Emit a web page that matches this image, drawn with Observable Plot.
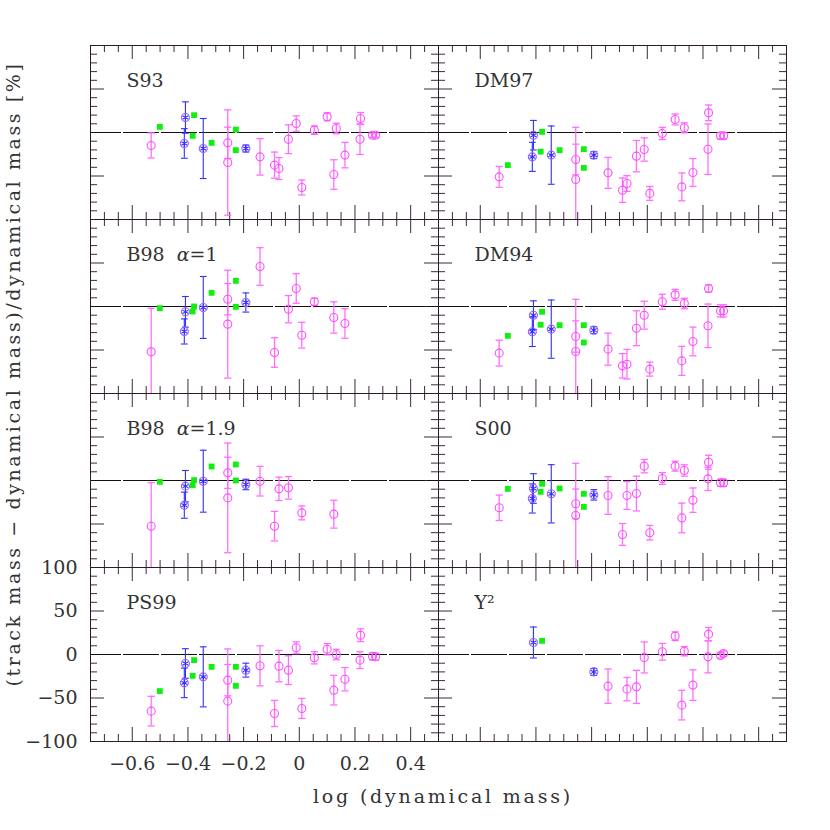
<!DOCTYPE html>
<html><head><meta charset="utf-8">
<script src="https://cdn.jsdelivr.net/npm/d3@7"></script>
<script src="https://cdn.jsdelivr.net/npm/@observablehq/plot@0.6"></script>
<style>body{margin:0;background:#fff}</style>
</head><body><div id="chart"></div>
<script>
const panelNames = ["S93", "DM97", "B98\u00a0\u00a0α=1", "DM94", "B98\u00a0\u00a0α=1.9", "S00", "PS99", "Y²"];

const magentaX = [-0.532, -0.257, -0.257, -0.141, -0.089, -0.073, -0.039, -0.011, 0.009, 0.054, 0.100, 0.124, 0.133, 0.164, 0.220, 0.218, 0.263, 0.274];
const magentaY = [
  [-14.9, -11.9, -34.5, -28, -37.5, -41.4, -7.7, 10.3, -63.2, 2.7, 18, -48.3, 4.6, -26, 16.1, -7.7, -3.1, -3.1],
  [-51, -31, -54, -46.4, -66.3, -58.6, -27.2, -19.5, -70, -1.1, 15, -62.5, 5.4, -46, 22.6, -19.2, -3.8, -3.8],
  [-52.1, 8.4, -20.3, 46, -52.9, null, -3.1, 20.7, -33, 5.4, null, -12.6, null, -19.5, null, null, null, null],
  [-53.6, -34.5, -51.7, -49, -68.2, -66.3, -25, -10, -72, 5.4, 13.4, -62.5, 3.4, -40.2, 20.7, -22.2, -5, -5],
  [-52.5, 8.8, -20, -0.8, -52.5, -9.6, -8.4, null, -37.2, null, null, -38.7, null, null, null, null, null, null],
  [-31.4, -26.8, -40.2, -17.2, -62, -17.2, -15, 16.5, -60, 2.3, 16.5, -43, 11.5, -22.6, 21, 1.9, -2.7, -2.7],
  [-65.1, -29.5, -53.6, -13, -67.8, -13.4, -18, 7.7, -62, -3.8, 6.1, -41, 0, -28.4, 22.2, -6.5, -2, -2.5],
  [null, null, null, -36.4, null, -39.8, -37.2, -3.4, null, 3.1, 21, -58.2, 3.8, -35.2, 23.4, -2.7, -1.1, 1.1]
];
const magentaErr = [
  [14.4, 18, 60.5, 21, 15, 12.6, 16.5, 8.8, 8.6, 4.8, 4.6, 17, 6, 14.6, 6.9, 17.6, 2.5, 2.5],
  [12, 17.6, 60, 17.8, 14, 9, 18, 13.4, 8, 7, 6.3, 16, 5.7, 16, 9, 29, 3.5, 3.5],
  [50, 18, 62, 21.6, 17, null, 15.7, 17, 14.8, 4, null, 18, null, 17, null, null, null, null],
  [14.8, 18, 60, 18.4, 14, 17, 20, 16, 8, 8.6, 6.3, 16.7, 6, 16.5, 4, 25, 7, 7],
  [50, 18, 63, 17, 17, 13.4, 13, null, 8, null, null, 16, null, null, null, null, null, null],
  [14.6, 17, 60, 21.6, 12.5, 16, 20, 7.7, 8.4, 6.7, 5.7, 17, 6.5, 14, 8, 13.4, 4, 4],
  [17, 18, 60, 23, 15, 18, 16.5, 6.7, 11.5, 7, 6.5, 17, 6, 13.4, 7.3, 9.6, 4, 4],
  [null, null, null, 19.7, null, 13.4, 19, 17.8, null, 9.6, 5, 17, 5.4, 17.6, 7.7, 18.4, 3, 3]
];

const blueX = [-0.409, -0.413, -0.345, -0.192];
const blueY = [
  [17.2, -12.6, -18.4, -18.4],
  [-3.1, -28, -26, -26],
  [-6.1, -28.7, -1.1, 4.6],
  [-10, -29, -26, -27.2],
  [-6.5, -28.4, -0.8, -4.6],
  [-9.2, -20.7, -15.3, -16.5],
  [-10.3, -32.6, -25.7, -18],
  [13.8, null, null, -20]
];
const blueErr = [
  [18, 17, 34.5, 4],
  [17, 16.7, 33.5, 4],
  [17.6, 14.4, 35.6, 11],
  [16.5, 17, 33.5, 4],
  [18, 15, 35.6, 6],
  [17, 16.7, 33.5, 6],
  [17, 17, 34.5, 8],
  [17.8, null, null, 4]
];

const greenX = [-0.501, -0.378, -0.383, -0.315, -0.228, -0.228];
const greenY = [
  [6.5, 19.9, -3.8, -11.9, 3.4, -20.3],
  [-37.5, 0.8, -22, -20.3, -19.2, -40.6],
  [-1.9, 0, -5.7, 15.7, 29.5, -0.4],
  [-33.7, -6.1, -21, -21.5, -21.5, -41.4],
  [-1.5, 0.4, -5.4, 16.1, 18.4, 0],
  [-9.6, -3.8, -13, -9.2, -15.3, -30.3],
  [-42.1, -6.5, -24.5, -14.2, -14.2, -36],
  [null, 15.7, null, null, null, null]
];

const xMajorTicks = [-0.6, -0.4, -0.2, 0, 0.2, 0.4];
const xTickLabels = ["−0.6", "−0.4", "−0.2", "0", "0.2", "0.4"];
const xMinorTicks = [-0.7, -0.65, -0.55, -0.5, -0.45, -0.35, -0.3, -0.25, -0.15, -0.1, -0.05, 0.05, 0.1, 0.15, 0.25, 0.3, 0.35, 0.45];
const yMajorTicks = [-50, 0, 50];
const yMinorTicks = [-90, -80, -70, -60, -40, -30, -20, -10, 10, 20, 30, 40, 60, 70, 80, 90];
const yLabelTicks = [100, 50, 0, -50, -100];
const yTickLabels = ["100", "50", "0", "−50", "−100"];

// build tables
const panels = panelNames.map((name, p) => ({name, col: p % 2, row: Math.floor(p / 2)}));
const magData = [], blueData = [], greenData = [];
panels.forEach((pn, p) => {
  magentaX.forEach((x, i) => { const y = magentaY[p][i]; if (y != null) magData.push({col: pn.col, row: pn.row, x, y, e: magentaErr[p][i]}); });
  blueX.forEach((x, i) => { const y = blueY[p][i]; if (y != null) blueData.push({col: pn.col, row: pn.row, x, y, e: blueErr[p][i]}); });
  greenX.forEach((x, i) => { const y = greenY[p][i]; if (y != null) greenData.push({col: pn.col, row: pn.row, x, y}); });
});

const cap = {draw(ctx, size) { const r = Math.sqrt(size / Math.PI); ctx.moveTo(-r, 0); ctx.lineTo(r, 0); }};

const W = 348, H = 174;
const tickCol = "#3a2a3a";
const MAG = "#ff4dff", MAGBAR = "#ff6eff", BLUE = "#3030ff";
const TXT = "#333";

const chart = Plot.plot({
  width: 830, height: 830,
  marginLeft: 90, marginRight: 44, marginTop: 45, marginBottom: 89,
  x: {domain: [-0.75, 0.5], axis: null},
  y: {domain: [-100, 100], axis: null},
  fx: {domain: [0, 1], padding: 0, axis: null},
  fy: {domain: [0, 1, 2, 3], padding: 0, axis: null},
  style: {fontFamily: "DejaVu Serif", background: "white", color: "#222"},
  marks: [
    // ticks on all four sides of each panel
    Plot.tickX(xMajorTicks, {x: d => d, insetTop: H - 14, stroke: tickCol}),
    Plot.tickX(xMinorTicks, {x: d => d, insetTop: H - 7, stroke: tickCol}),
    Plot.tickX(xMajorTicks, {x: d => d, insetBottom: H - 14, stroke: tickCol}),
    Plot.tickX(xMinorTicks, {x: d => d, insetBottom: H - 7, stroke: tickCol}),
    Plot.tickY(yMajorTicks, {y: d => d, insetRight: W - 14, stroke: tickCol}),
    Plot.tickY(yMinorTicks, {y: d => d, insetRight: W - 7, stroke: tickCol}),
    Plot.tickY(yMajorTicks, {y: d => d, insetLeft: W - 14, stroke: tickCol}),
    Plot.tickY(yMinorTicks, {y: d => d, insetLeft: W - 7, stroke: tickCol}),
    Plot.ruleY([0], {stroke: "#111", strokeDasharray: "36,2", strokeDashoffset: 5}),
    // magenta error bars
    Plot.ruleX(magData, {fx: "col", fy: "row", x: "x", y1: d => d.y - d.e, y2: d => d.y + d.e, stroke: MAGBAR, strokeWidth: 1.3, clip: true}),
    Plot.dot(magData, {fx: "col", fy: "row", x: "x", y: d => d.y + d.e, symbol: cap, r: 3.6, fill: "none", stroke: MAGBAR, strokeWidth: 1.3, clip: true}),
    Plot.dot(magData, {fx: "col", fy: "row", x: "x", y: d => d.y - d.e, symbol: cap, r: 3.6, fill: "none", stroke: MAGBAR, strokeWidth: 1.3, clip: true}),
    Plot.dot(magData, {fx: "col", fy: "row", x: "x", y: "y", r: 4, fill: "none", stroke: MAG, strokeWidth: 1.1}),
    // blue
    Plot.ruleX(blueData, {fx: "col", fy: "row", x: "x", y1: d => d.y - d.e, y2: d => d.y + d.e, stroke: BLUE, strokeWidth: 1.1, clip: true}),
    Plot.dot(blueData, {fx: "col", fy: "row", x: "x", y: d => d.y + d.e, symbol: cap, r: 3.4, fill: "none", stroke: BLUE, strokeWidth: 1.1, clip: true}),
    Plot.dot(blueData, {fx: "col", fy: "row", x: "x", y: d => d.y - d.e, symbol: cap, r: 3.4, fill: "none", stroke: BLUE, strokeWidth: 1.1, clip: true}),
    Plot.dot(blueData, {fx: "col", fy: "row", x: "x", y: "y", r: 4, fill: "none", stroke: "#9a5cff", strokeWidth: 1.1}),
    Plot.dot(blueData, {fx: "col", fy: "row", x: "x", y: "y", r: 3.2, symbol: "asterisk", stroke: BLUE, strokeWidth: 1.1}),
    // green
    Plot.dot(greenData, {fx: "col", fy: "row", x: "x", y: "y", r: 3.3, symbol: "square", fill: "#12ee12", stroke: "none"}),
    // panel labels
    Plot.text(panels, {fx: "col", fy: "row", text: "name", frameAnchor: "top-left", textAnchor: "start", lineAnchor: "middle", dx: 36, dy: 35, fontSize: 19, fill: TXT}),
    // tick labels on the bottom-left panel
    Plot.text(xMajorTicks, {fx: () => 0, fy: () => 3, x: d => d, text: (d, i) => xTickLabels[i], frameAnchor: "bottom", lineAnchor: "top", dy: 15, fontSize: 19, fill: TXT}),
    Plot.text(yLabelTicks, {fx: () => 0, fy: () => 3, y: d => d, text: (d, i) => yTickLabels[i], frameAnchor: "left", textAnchor: "end", lineAnchor: "middle", dx: -13, fontSize: 19, fill: TXT}),
    Plot.frame({stroke: "#2a1a2a", strokeWidth: 1})
  ]
});

const svg = d3.select(chart);
// italic alpha in the B98 labels
svg.selectAll("text").filter(function() { return this.childNodes.length === 1 && this.textContent.includes("α"); })
  .each(function() {
    const parts = this.textContent.split("α");
    const t = d3.select(this);
    t.text(null);
    t.append("tspan").text(parts[0]);
    t.append("tspan").style("font-style", "italic").text("α");
    t.append("tspan").text(parts[1]);
  });
svg.append("text")
  .attr("x", 443).attr("y", 803)
  .attr("text-anchor", "middle")
  .style("font-family", "DejaVu Serif").style("font-size", "19px").style("letter-spacing", "2.8px")
  .attr("fill", TXT)
  .text("log (dynamical mass)");
svg.append("text")
  .attr("transform", "translate(20,374) rotate(-90)")
  .attr("text-anchor", "middle")
  .style("font-family", "DejaVu Serif").style("font-size", "19px").style("letter-spacing", "2.6px")
  .attr("fill", TXT)
  .text("(track mass − dynamical mass)/dynamical mass [%]");

document.getElementById("chart").appendChild(chart);
</script>
</body></html>
